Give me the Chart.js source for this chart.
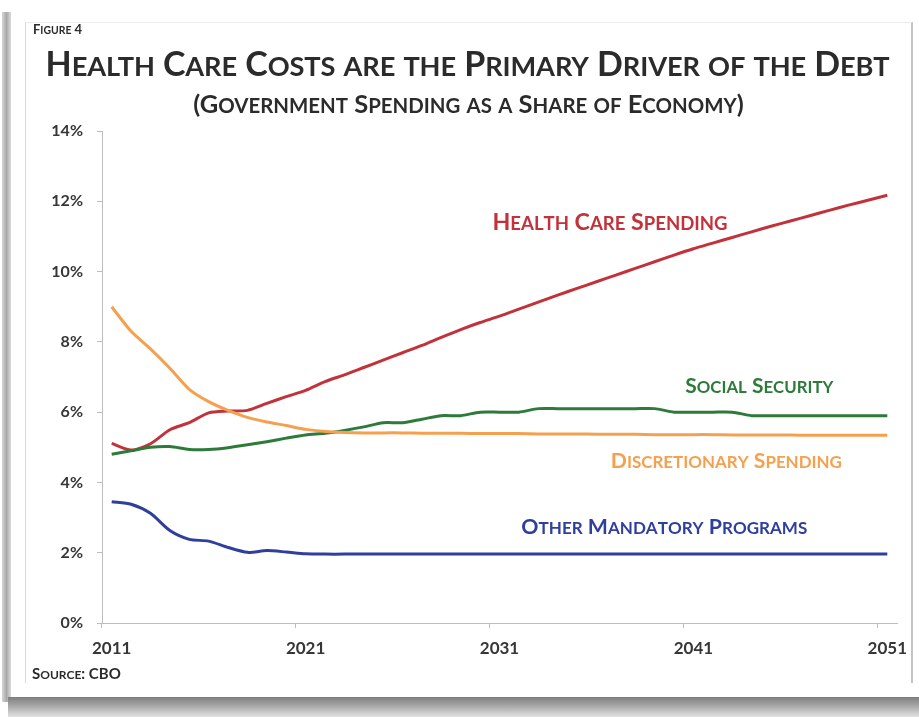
<!DOCTYPE html>
<html>
<head>
<meta charset="utf-8">
<script src="https://cdn.jsdelivr.net/npm/chart.js@4/dist/chart.umd.min.js"></script>
<style>
  html, body { margin: 0; padding: 0; background: #fff; }
  #page { position: relative; width: 919px; height: 717px; overflow: hidden; font-family: Lato, "Open Sans", sans-serif; font-weight: 700; color: #2b2b2b; }
  #shadowLeft { position: absolute; left: 2px; top: 12px; width: 9px; height: 690px; background: linear-gradient(to right, #d6d6d6, #a9a9a9, #dcdcdc); }
  #shadowBottom { position: absolute; left: 8px; top: 697px; width: 911px; height: 20px; background: linear-gradient(to bottom, #7d7d7d, #a8a8a8 45%, #e2e2e2); }
  #card { position: absolute; left: 25px; top: 22px; width: 885px; height: 660px; background: #fff; border-left: 1px solid #dadada; border-top: 1px solid #ececec; border-right: 2px solid #c4c4c4; }
  canvas { position: absolute; left: 0; top: 0; }
  .txt { position: absolute; white-space: nowrap; line-height: 1; }
  #fig { left: 33px; top: 23px; font-size: 13px; }
  #title { left: 0; width: 935px; text-align: center; top: 46px; font-size: 34px; letter-spacing: -0.1px; }
  #subtitle { left: 0; width: 937px; text-align: center; top: 91px; font-size: 25.5px; }
  #source { left: 32px; top: 666px; font-size: 15px; }
</style>
</head>
<body>
<div id="page">
  <div id="shadowLeft"></div>
  <div id="shadowBottom"></div>
  <div id="card"></div>
  <canvas id="chart" width="919" height="717"></canvas>
  <div class="txt sc" id="fig">Figure 4</div>
  <div class="txt sc" id="title">Health Care Costs are the Primary Driver of the Debt</div>
  <div class="txt sc" id="subtitle">(Government Spending as a Share of Economy)</div>
  <div class="txt sc" id="source">Source: CBO</div>
</div>
<script>
// years 2011-2051, CBO long-term projection (% of GDP)
const years = [2011, 2012, 2013, 2014, 2015, 2016, 2017, 2018, 2019, 2020,
  2021, 2022, 2023, 2024, 2025, 2026, 2027, 2028, 2029, 2030,
  2031, 2032, 2033, 2034, 2035, 2036, 2037, 2038, 2039, 2040,
  2041, 2042, 2043, 2044, 2045, 2046, 2047, 2048, 2049, 2050, 2051];

const healthCare = [5.11, 4.92, 5.10, 5.50, 5.70, 5.98, 6.03, 6.05, 6.25, 6.44,
  6.62, 6.87, 7.06, 7.27, 7.48, 7.69, 7.90, 8.13, 8.35, 8.55,
  8.73, 8.93, 9.13, 9.33, 9.52, 9.71, 9.90, 10.09, 10.28, 10.47,
  10.65, 10.81, 10.97, 11.13, 11.29, 11.44, 11.59, 11.74, 11.89, 12.03, 12.17];

const socialSecurity = [4.80, 4.90, 5.00, 5.02, 4.94, 4.94, 4.99, 5.07, 5.16, 5.26,
  5.35, 5.40, 5.48, 5.58, 5.70, 5.70, 5.80, 5.90, 5.90, 6.00,
  6.00, 6.00, 6.10, 6.10, 6.10, 6.10, 6.10, 6.10, 6.10, 6.00,
  6.00, 6.00, 6.00, 5.90, 5.90, 5.90, 5.90, 5.90, 5.90, 5.90, 5.90];

const discretionary = [9.00, 8.30, 7.80, 7.25, 6.65, 6.30, 6.05, 5.85, 5.72, 5.62,
  5.51, 5.45, 5.42, 5.41, 5.41, 5.41, 5.40, 5.40, 5.40, 5.39,
  5.39, 5.39, 5.38, 5.38, 5.38, 5.37, 5.37, 5.37, 5.36, 5.36,
  5.36, 5.36, 5.35, 5.35, 5.35, 5.35, 5.34, 5.34, 5.34, 5.34, 5.34];

const otherMandatory = [3.45, 3.38, 3.12, 2.63, 2.38, 2.33, 2.15, 2.01, 2.06, 2.02,
  1.97, 1.96, 1.96, 1.96, 1.96, 1.96, 1.96, 1.96, 1.96, 1.96,
  1.96, 1.96, 1.96, 1.96, 1.96, 1.96, 1.96, 1.96, 1.96, 1.96,
  1.96, 1.96, 1.96, 1.96, 1.96, 1.96, 1.96, 1.96, 1.96, 1.96, 1.96];

const yTicks = [0, 2, 4, 6, 8, 10, 12, 14];

const RED = '#c2323a', GREEN = '#2e7a3b', ORANGE = '#f5a04f', BLUE = '#2f3f9d';
const AXIS = '#bdbdbd', TICKTXT = '#363636';

// fake small caps for the html text: capitals at full size, the rest smaller
document.querySelectorAll('.sc').forEach(el => {
  const txt = el.textContent;
  el.textContent = '';
  for (const ch of txt) {
    const s = document.createElement('span');
    s.textContent = ch.toUpperCase();
    if (ch !== ch.toUpperCase()) s.style.fontSize = '0.8em';
    el.appendChild(s);
  }
});

// same thing on the canvas, for the series labels
const drawSmallCaps = (ctx, text, cx, cy, size, color) => {
  const parts = [...text].map(ch => ({
    ch: ch.toUpperCase(),
    font: `bold ${ch !== ch.toUpperCase() ? size * 0.8 : size}px Lato`
  }));
  let w = 0;
  parts.forEach(p => { ctx.font = p.font; p.w = ctx.measureText(p.ch).width; w += p.w; });
  let x = cx - w / 2;
  const base = cy + size * 0.36;
  ctx.fillStyle = color;
  ctx.textBaseline = 'alphabetic';
  ctx.textAlign = 'left';
  parts.forEach(p => { ctx.font = p.font; ctx.fillText(p.ch, x, base); x += p.w; });
};

const seriesLabels = {
  id: 'seriesLabels',
  afterDatasetsDraw(chart) {
    const { ctx, scales: { x, y } } = chart;
    const items = [
      ['Health Care Spending', 25.7, 11.41, RED, 23.2],
      ['Social Security', 33.4, 6.77, GREEN, 21],
      ['Discretionary Spending', 31.7, 4.64, ORANGE, 21.2],
      ['Other Mandatory Programs', 28.5, 2.76, BLUE, 21.3]
    ];
    ctx.save();
    items.forEach(([t, xi, yv, c, sz]) => drawSmallCaps(ctx, t, x.getPixelForValue(xi), y.getPixelForValue(yv), sz, c));
    ctx.restore();
  }
};

const line = (label, data, color) => ({
  label, data, borderColor: color, backgroundColor: color,
  borderWidth: 3, pointRadius: 0, tension: 0.25, fill: false
});

new Chart(document.getElementById('chart'), {
  type: 'line',
  data: {
    labels: years,
    datasets: [
      line('Other Mandatory Programs', otherMandatory, BLUE),
      line('Discretionary Spending', discretionary, ORANGE),
      line('Social Security', socialSecurity, GREEN),
      line('Health Care Spending', healthCare, RED)
    ]
  },
  options: {
    responsive: false,
    animation: false,
    layout: { padding: { left: 20, right: 22, top: 131, bottom: 54 } },
    plugins: { legend: { display: false }, tooltip: { enabled: false } },
    scales: {
      x: {
        offset: true,
        afterFit: s => { s.height = 40; },
        border: { color: AXIS, width: 1 },
        grid: {
          offset: true, drawOnChartArea: false, tickLength: 5,
          color: c => c.index % 10 === 0 ? AXIS : 'rgba(0,0,0,0)'
        },
        ticks: {
          autoSkip: false, maxRotation: 0, padding: 10, color: TICKTXT,
          font: { family: 'Lato', weight: 'bold', size: 17 },
          callback: (v, i) => i % 10 === 0 ? years[i] : ''
        }
      },
      y: {
        min: yTicks[0], max: yTicks[yTicks.length - 1],
        afterFit: s => { s.width = 82; },
        afterBuildTicks: s => { s.ticks = yTicks.map(v => ({ value: v })); },
        border: { color: AXIS, width: 1 },
        grid: { drawOnChartArea: false, tickLength: 5, color: AXIS },
        ticks: {
          padding: 14, color: TICKTXT,
          font: { family: 'Lato', weight: 'bold', size: 16 },
          callback: v => v + '%'
        }
      }
    }
  },
  plugins: [seriesLabels]
});
</script>
</body>
</html>
